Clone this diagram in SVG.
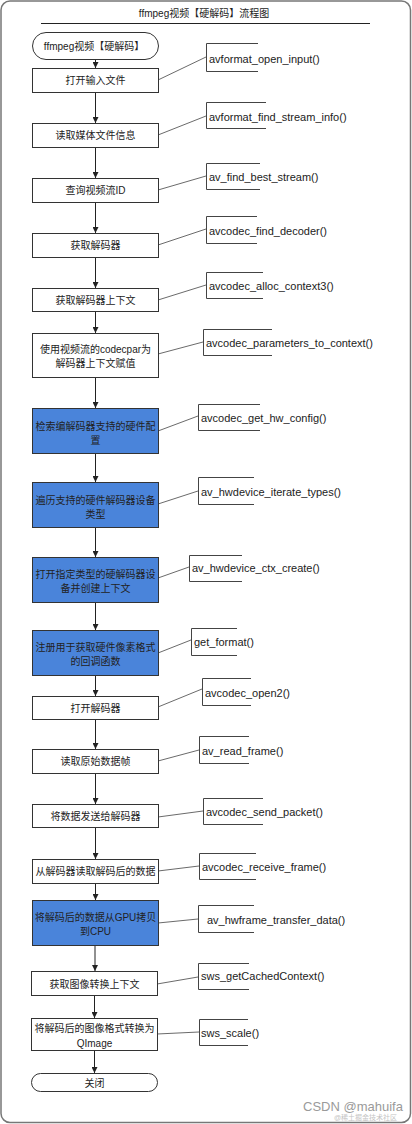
<svg xmlns="http://www.w3.org/2000/svg" width="412" height="1124" viewBox="0 0 412 1124">
<style>
text{font-family:"Liberation Sans","Noto Sans CJK SC",sans-serif;font-size:10px;fill:#222;dominant-baseline:central}
.c{text-anchor:middle}
.t{font-size:11px}
.box{fill:#fff;stroke:#333;stroke-width:1}
.blue{fill:#4a84da;stroke:#333;stroke-width:1}
.ann{fill:none;stroke:#444;stroke-width:1}
.lk{fill:none;stroke:#444;stroke-width:0.8}
.ar{stroke:#222;stroke-width:1;fill:none;marker-end:url(#ah)}
</style>
<defs>
<marker id="ah" viewBox="0 0 8 8" refX="8" refY="4" markerWidth="6" markerHeight="6" orient="auto" markerUnits="userSpaceOnUse">
<path d="M0,0 L8,4 L0,8 Z" fill="#222"/>
</marker>
</defs>
<rect x="1" y="1" width="409.5" height="1121.5" rx="9" fill="#fff" stroke="#777" stroke-width="1.5"/>
<g id="title">
<text class="c" x="204" y="13">ffmpeg视频【硬解码】流程图</text>
<line x1="41" y1="23.5" x2="370" y2="23.5" stroke="#222" stroke-width="1"/>
</g>
<g id="connectors">
<path class="ar" d="M95.5,59 V68"/>
<path class="ar" d="M95.5,92 V123"/>
<path class="ar" d="M95.5,147 V178"/>
<path class="ar" d="M95.5,202 V233"/>
<path class="ar" d="M95.5,257 V288"/>
<path class="ar" d="M95.5,311 V333"/>
<path class="ar" d="M95.5,377 V408"/>
<path class="ar" d="M95.5,453 V482"/>
<path class="ar" d="M95.5,527 V557"/>
<path class="ar" d="M95.5,602 V630"/>
<path class="ar" d="M95.5,675 V696"/>
<path class="ar" d="M95.5,719 V749"/>
<path class="ar" d="M95.5,773 V804"/>
<path class="ar" d="M95.5,827 V859"/>
<path class="ar" d="M95.5,883 V900"/>
<path class="ar" d="M95,945 V971"/>
<path class="ar" d="M94.5,995 V1018"/>
<path class="ar" d="M94.5,1050 V1073"/>
<path class="lk" d="M158,80 L206,57"/>
<path class="lk" d="M158,135 L206,116"/>
<path class="lk" d="M158,190 L206,176"/>
<path class="lk" d="M158,245 L206,229"/>
<path class="lk" d="M158,300 L206,285"/>
<path class="lk" d="M158,354 L203,342"/>
<path class="lk" d="M158,431 L198,416"/>
<path class="lk" d="M158,504 L198,491"/>
<path class="lk" d="M158,578 L189,567"/>
<path class="lk" d="M158,653 L191,640"/>
<path class="lk" d="M158,707 L202,689"/>
<path class="lk" d="M158,761 L199,750"/>
<path class="lk" d="M158,817 L203,811"/>
<path class="lk" d="M158,871 L199,866"/>
<path class="lk" d="M158,923 L198,919"/>
<path class="lk" d="M157,984 L198,977"/>
<path class="lk" d="M157,1034 L199,1032"/>
</g>
<g id="start"><rect class="box" x="32.5" y="32.5" width="126" height="27" rx="13.5"/><text class="c" x="94" y="46">ffmpeg视频【硬解码】</text></g>
<g id="n1"><rect class="box" x="32.5" y="68.5" width="126" height="24"/><text class="c" x="95.5" y="80.5">打开输入文件</text></g>
<g id="n2"><rect class="box" x="32.5" y="123.5" width="126" height="24"/><text class="c" x="95.5" y="135.5">读取媒体文件信息</text></g>
<g id="n3"><rect class="box" x="32.5" y="178.5" width="126" height="24"/><text class="c" x="95.5" y="190.5">查询视频流ID</text></g>
<g id="n4"><rect class="box" x="32.5" y="233.5" width="126" height="24"/><text class="c" x="95.5" y="245.5">获取解码器</text></g>
<g id="n5"><rect class="box" x="32.5" y="288.5" width="126" height="23"/><text class="c" x="95.5" y="300">获取解码器上下文</text></g>
<g id="n6"><rect class="box" x="32.5" y="333.5" width="126" height="44"/><text class="c" x="95.5" y="349">使用视频流的codecpar为</text><text class="c" x="95.5" y="363">解码器上下文赋值</text></g>
<g id="n7"><rect class="blue" x="32.5" y="408.5" width="126" height="45"/><text class="c" x="95.5" y="426">检索编解码器支持的硬件配</text><text class="c" x="95.5" y="440">置</text></g>
<g id="n8"><rect class="blue" x="32.5" y="482.5" width="126" height="45"/><text class="c" x="95.5" y="500">遍历支持的硬件解码器设备</text><text class="c" x="95.5" y="514">类型</text></g>
<g id="n9"><rect class="blue" x="32.5" y="557.5" width="126" height="45"/><text class="c" x="95.5" y="574">打开指定类型的硬解码器设</text><text class="c" x="95.5" y="588">备并创建上下文</text></g>
<g id="n10"><rect class="blue" x="32.5" y="630.5" width="126" height="45"/><text class="c" x="95.5" y="647">注册用于获取硬件像素格式</text><text class="c" x="95.5" y="661">的回调函数</text></g>
<g id="n11"><rect class="box" x="32.5" y="696.5" width="126" height="23"/><text class="c" x="95.5" y="708">打开解码器</text></g>
<g id="n12"><rect class="box" x="32.5" y="749.5" width="126" height="24"/><text class="c" x="95.5" y="761.5">读取原始数据帧</text></g>
<g id="n13"><rect class="box" x="32.5" y="804.5" width="126" height="23"/><text class="c" x="95.5" y="816">将数据发送给解码器</text></g>
<g id="n14"><rect class="box" x="32.5" y="859.5" width="126" height="24"/><text class="c" x="95.5" y="871.5">从解码器读取解码后的数据</text></g>
<g id="n15"><rect class="blue" x="32.5" y="900.5" width="126" height="45"/><text class="c" x="95.5" y="917">将解码后的数据从GPU拷贝</text><text class="c" x="95.5" y="931">到CPU</text></g>
<g id="n16"><rect class="box" x="31.5" y="971.5" width="126" height="24"/><text class="c" x="94.5" y="984">获取图像转换上下文</text></g>
<g id="n17"><rect class="box" x="31.5" y="1018.5" width="126" height="32"/><text class="c" x="94.5" y="1028">将解码后的图像格式转换为</text><text class="c" x="94.5" y="1043">QImage</text></g>
<g id="end"><rect class="box" x="31.5" y="1073.5" width="126" height="18" rx="9"/><text class="c" x="94.5" y="1083">关闭</text></g>
<g id="a1"><path class="ann" d="M258,43.5 H206.5 V71.5 H258"/><text class="t" x="209" y="59">avformat_open_input()</text></g>
<g id="a2"><path class="ann" d="M266,102.5 H206.5 V128.5 H266"/><text class="t" x="209" y="117">avformat_find_stream_info()</text></g>
<g id="a3"><path class="ann" d="M260,163.5 H206.5 V189.5 H260"/><text class="t" x="209" y="177">av_find_best_stream()</text></g>
<g id="a4"><path class="ann" d="M257,216.5 H206.5 V243.5 H257"/><text class="t" x="209" y="231">avcodec_find_decoder()</text></g>
<g id="a5"><path class="ann" d="M263,272.5 H206.5 V298.5 H263"/><text class="t" x="209" y="286">avcodec_alloc_context3()</text></g>
<g id="a6"><path class="ann" d="M272,329.5 H203.5 V355.5 H272"/><text class="t" x="206" y="343">avcodec_parameters_to_context()</text></g>
<g id="a7"><path class="ann" d="M260,404.5 H198.5 V430.5 H260"/><text class="t" x="201" y="418">avcodec_get_hw_config()</text></g>
<g id="a8"><path class="ann" d="M254,477.5 H198.5 V504.5 H254"/><text class="t" x="201" y="492">av_hwdevice_iterate_types()</text></g>
<g id="a9"><path class="ann" d="M242,555.5 H189.5 V581.5 H242"/><text class="t" x="192" y="568">av_hwdevice_ctx_create()</text></g>
<g id="a10"><path class="ann" d="M237,628.5 H191.5 V655.5 H237"/><text class="t" x="194" y="642">get_format()</text></g>
<g id="a11"><path class="ann" d="M251,678.5 H202.5 V705.5 H251"/><text class="t" x="205" y="693">avcodec_open2()</text></g>
<g id="a12"><path class="ann" d="M249,736.5 H199.5 V763.5 H249"/><text class="t" x="202" y="751">av_read_frame()</text></g>
<g id="a13"><path class="ann" d="M263,798.5 H203.5 V824.5 H263"/><text class="t" x="206" y="812">avcodec_send_packet()</text></g>
<g id="a14"><path class="ann" d="M256,853.5 H199.5 V879.5 H256"/><text class="t" x="202" y="867">avcodec_receive_frame()</text></g>
<g id="a15"><path class="ann" d="M254,905.5 H198.5 V932.5 H254"/><text class="t" x="207" y="920">av_hwframe_transfer_data()</text></g>
<g id="a16"><path class="ann" d="M249,963.5 H198.5 V989.5 H249"/><text class="t" x="201" y="976">sws_getCachedContext()</text></g>
<g id="a17"><path class="ann" d="M248,1019.5 H199.5 V1045.5 H248"/><text class="t" x="201" y="1033">sws_scale()</text></g>
<g id="watermark">
<text x="303" y="1106" style="font-size:13px;fill:#9a9a9a">CSDN @mahuifa</text>
<text x="334" y="1117.5" style="font-size:7px;fill:#c4c4c4">@稀土掘金技术社区</text>
</g>
</svg>
